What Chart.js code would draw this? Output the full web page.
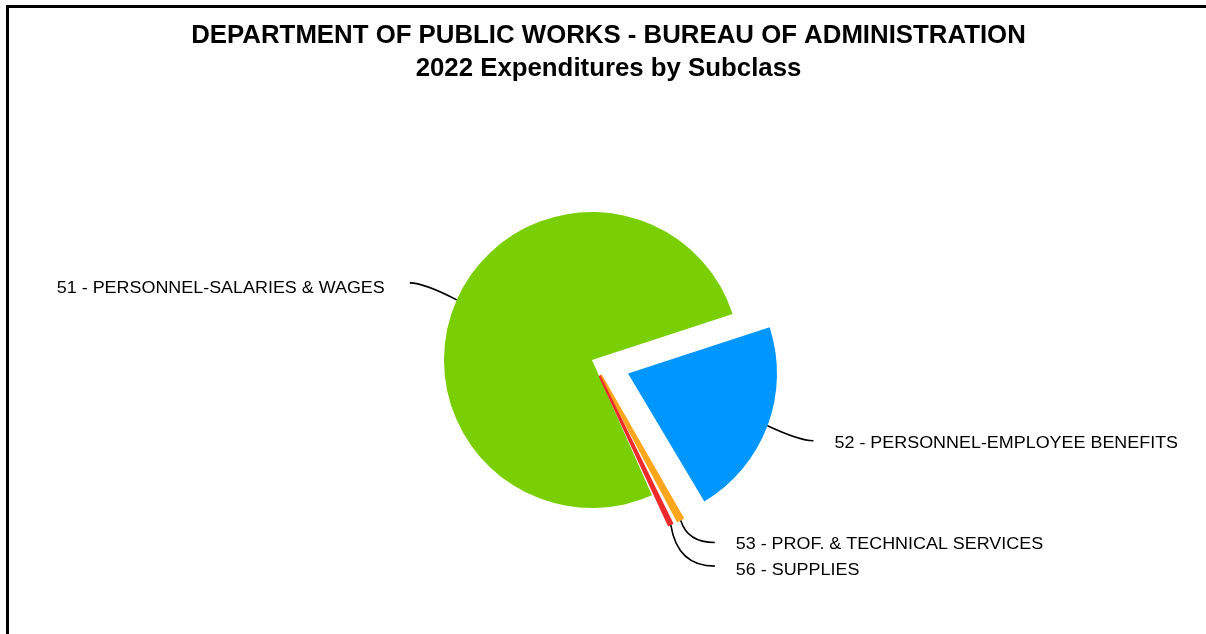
<!DOCTYPE html>
<html>
<head>
<meta charset="utf-8">
<title>2022 Expenditures by Subclass</title>
<script src="https://cdn.jsdelivr.net/npm/chart.js@4/dist/chart.umd.min.js"></script>
<style>
  html, body { margin: 0; padding: 0; background: #fff; overflow: hidden; }
  #frame {
    position: absolute; left: 6px; top: 5px;
    width: 1220px; height: 660px;
    border: 3px solid #000;
  }
  #pieChart { position: absolute; left: 0; top: 0; }
</style>
</head>
<body>
<div id="frame"></div>
<canvas id="pieChart" width="1206" height="634"></canvas>
<script>
// data (share of total, %)
const subclasses = [
  "51 - PERSONNEL-SALARIES & WAGES",
  "52 - PERSONNEL-EMPLOYEE BENEFITS",
  "53 - PROF. & TECHNICAL SERVICES",
  "56 - SUPPLIES",
];
const shares = [76.6, 21.5, 1.0, 0.9];
const titleText = [
  "DEPARTMENT OF PUBLIC WORKS - BUREAU OF ADMINISTRATION",
  "2022 Expenditures by Subclass",
];

// styling
const sliceColors = ["#79CF04", "#0096FF", "#FFA61A", "#EE2B2B"];
// thin slices get a border in their own colour, chart.js trims exploded slivers
const sliceBorderColors = ["#fff", "#fff", "#FFA61A", "#EE2B2B"];
const sliceBorders = [0, 0, 3, 2];
const explodePx = [0, 38.5, 17.5, 17.5];        // how far each slice is pulled out
const sliceOffsets = explodePx.map((d) => d * 4); // chart.js translates by offset/4
// leader line end relative to slice edge: dx, dy, bend, text shift
const leaderLayout = [
  [-47, -17, 0.7, 6],
  [46, 15, 0.7, 3],
  [34, 22, 0.2, 2],
  [44, 41, 0.15, 4],
];

const titlePlugin = {
  id: "titlePlugin",
  afterDraw(chart) {
    const ctx = chart.ctx;
    ctx.save();
    ctx.fillStyle = "#000";
    ctx.font = 'bold 25.8px "Liberation Sans", Arial, sans-serif';
    ctx.textAlign = "center";
    ctx.textBaseline = "alphabetic";
    ctx.fillText(titleText[0], 608.5, 43);
    ctx.fillText(titleText[1], 608.5, 76);
    ctx.restore();
  },
};

const leaderLines = {
  id: "leaderLines",
  afterDatasetsDraw(chart) {
    const ctx = chart.ctx;
    const meta = chart.getDatasetMeta(0);
    meta.data.forEach((arc, i) => {
      const p = arc.getProps(["x", "y", "startAngle", "endAngle", "outerRadius", "circumference"], true);
      const mid = (p.startAngle + p.endAngle) / 2;
      const shift = sliceOffsets[i] / 4;
      const fix = 1 - Math.sin(Math.min(Math.PI, p.circumference));
      const r = shift + p.outerRadius + shift * fix + sliceBorders[i] / 2;
      const x0 = p.x + Math.cos(mid) * r;
      const y0 = p.y + Math.sin(mid) * r;
      const [dx, dy, bend, textDy] = leaderLayout[i];
      const x1 = x0 + dx;
      const y1 = y0 + dy;

      ctx.save();
      ctx.strokeStyle = "#000";
      ctx.lineWidth = 1.6;
      ctx.beginPath();
      ctx.moveTo(x0, y0);
      ctx.quadraticCurveTo(x0 + dx * bend, y1, x1, y1);
      ctx.stroke();

      const right = dx > 0;
      ctx.translate(x1 + (right ? 21 : -25), y1 + textDy);
      ctx.scale(1.12, 1);
      ctx.fillStyle = "#000";
      ctx.font = '16px "Liberation Sans", Arial, sans-serif';
      ctx.textAlign = right ? "left" : "right";
      ctx.textBaseline = "middle";
      ctx.fillText(subclasses[i], 0, 0);
      ctx.restore();
    });
  },
};

var ctx = document.getElementById("pieChart").getContext("2d");
var chart = new Chart(ctx, {
  type: "pie",
  data: {
    labels: subclasses,
    datasets: [
      {
        data: shares,
        backgroundColor: sliceColors,
        borderColor: sliceBorderColors,
        borderWidth: sliceBorders,
        borderJoinStyle: "miter",
        offset: sliceOffsets,
        hoverOffset: 0,
        radius: 148,
      },
    ],
  },
  options: {
    responsive: false,
    devicePixelRatio: 1,
    animation: false,
    events: [],
    rotation: 156.1,
    layout: {
      padding: { top: 86, bottom: 0, left: 0, right: 22 },
    },
    plugins: {
      legend: { display: false },
      tooltip: { enabled: false },
      title: { display: false },
    },
  },
  plugins: [leaderLines, titlePlugin],
});
</script>
</body>
</html>
